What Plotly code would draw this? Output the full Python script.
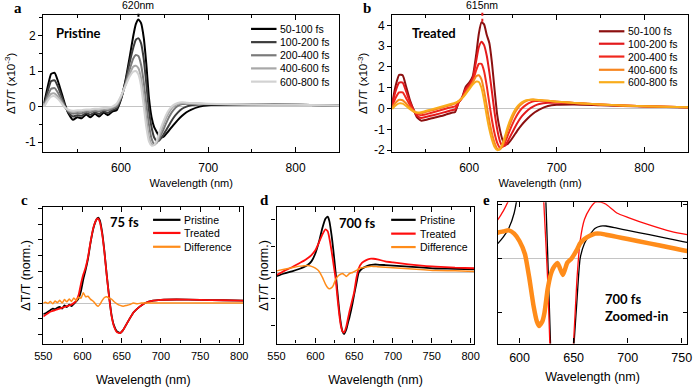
import plotly.graph_objects as go

# ---------------- data ----------------
TIMES = ["50-100 fs", "100-200 fs", "200-400 fs", "400-600 fs", "600-800 fs"]

# panel a : pristine, dT/T (x1e-3)
A_WL = [512, 516, 520, 524, 528, 532, 536, 540, 545, 550, 555, 560, 565, 570, 575, 580, 585,
        590, 595, 600, 605, 610, 614, 617, 620, 623, 626, 629, 632, 635, 638, 641, 644, 648,
        652, 656, 660, 665, 670, 675, 680, 690, 700, 720, 750, 800, 850]
A_50_100 = [0.10, 0.55, 0.92, 0.95, 0.70, 0.38, 0.05, -0.20, -0.37, -0.30, -0.33, -0.22, -0.30,
            -0.20, -0.28, -0.17, -0.24, -0.14, -0.10, 0.20, 0.72, 1.40, 1.98, 2.32, 2.45, 2.35,
            1.95, 1.20, 0.25, -0.30, -0.58, -0.72, -0.85, -0.86, -0.76, -0.64, -0.52, -0.38,
            -0.26, -0.16, -0.09, 0.0, 0.04, 0.06, 0.06, 0.05, 0.03]
A_100_200 = [0.06, 0.42, 0.72, 0.74, 0.55, 0.28, 0.02, -0.17, -0.28, -0.24, -0.26, -0.18, -0.23,
             -0.16, -0.21, -0.13, -0.18, -0.10, -0.05, 0.22, 0.68, 1.25, 1.65, 1.88, 1.92, 1.78,
             1.35, 0.65, -0.10, -0.58, -0.87, -0.97, -0.95, -0.82, -0.65, -0.48, -0.32, -0.17,
             -0.06, 0.0, 0.04, 0.06, 0.06, 0.06, 0.06, 0.05, 0.03]
A_200_400 = [0.03, 0.30, 0.50, 0.52, 0.38, 0.18, -0.02, -0.14, -0.20, -0.18, -0.19, -0.14, -0.16,
             -0.12, -0.14, -0.09, -0.11, -0.06, 0.0, 0.25, 0.62, 1.05, 1.35, 1.45, 1.42, 1.18,
             0.70, 0.08, -0.50, -0.90, -1.05, -1.02, -0.90, -0.68, -0.45, -0.25, -0.10, 0.02,
             0.07, 0.08, 0.08, 0.08, 0.07, 0.07, 0.06, 0.05, 0.03]
A_400_600 = [0.01, 0.22, 0.36, 0.37, 0.27, 0.12, -0.03, -0.11, -0.15, -0.13, -0.13, -0.10, -0.11,
             -0.08, -0.09, -0.06, -0.06, -0.02, 0.05, 0.28, 0.60, 0.92, 1.12, 1.15, 1.08, 0.80,
             0.28, -0.35, -0.85, -1.06, -1.08, -1.00, -0.82, -0.55, -0.30, -0.12, 0.0, 0.07,
             0.10, 0.10, 0.09, 0.08, 0.07, 0.07, 0.06, 0.05, 0.03]
A_600_800 = [0.0, 0.17, 0.28, 0.29, 0.21, 0.09, -0.03, -0.09, -0.12, -0.10, -0.10, -0.08, -0.08,
             -0.06, -0.06, -0.04, -0.03, 0.0, 0.08, 0.30, 0.58, 0.85, 0.98, 1.00, 0.90, 0.58,
             0.02, -0.58, -0.98, -1.10, -1.08, -0.95, -0.72, -0.45, -0.22, -0.06, 0.04, 0.10,
             0.12, 0.11, 0.10, 0.09, 0.08, 0.07, 0.06, 0.05, 0.03]
A_YTICKS = [-1, 0, 1, 2]

# panel b : treated, dT/T (x1e-3)
B_WL = [512, 516, 520, 524, 528, 532, 536, 540, 545, 550, 556, 562, 568, 574, 580, 584, 586,
        588, 592, 596, 600, 604, 608, 611, 614, 617, 620, 623, 626, 629, 632, 635, 638, 641,
        644, 648, 652, 656, 660, 665, 670, 675, 680, 690, 700, 720, 750, 800, 850]
B_50_100 = [0.25, 1.10, 1.62, 1.60, 1.05, 0.45, 0.0, -0.40, -0.58, -0.55, -0.48, -0.42, -0.36,
            -0.28, -0.20, -0.16, 0.05, 0.30, 0.55, 1.05, 1.25, 1.55, 2.60, 3.60, 4.15, 4.05,
            3.55, 3.15, 2.20, 0.90, -0.30, -1.00, -1.50, -1.73, -1.70, -1.50, -1.25, -1.00,
            -0.78, -0.55, -0.35, -0.18, -0.05, 0.12, 0.18, 0.20, 0.16, 0.10, 0.05]
B_100_200 = [0.18, 0.85, 1.25, 1.25, 0.82, 0.35, -0.02, -0.32, -0.45, -0.41, -0.35, -0.29, -0.22,
             -0.15, -0.08, -0.04, 0.10, 0.30, 0.52, 0.95, 1.15, 1.45, 2.30, 2.95, 3.22, 3.05,
             2.55, 1.75, 0.80, -0.20, -1.00, -1.55, -1.80, -1.78, -1.58, -1.25, -0.92, -0.62,
             -0.38, -0.15, 0.02, 0.14, 0.22, 0.28, 0.28, 0.25, 0.18, 0.11, 0.06]
B_200_400 = [0.10, 0.52, 0.78, 0.78, 0.50, 0.18, -0.08, -0.25, -0.32, -0.28, -0.21, -0.14, -0.07,
             0.0, 0.07, 0.11, 0.20, 0.32, 0.52, 0.85, 1.05, 1.30, 1.85, 2.15, 2.15, 1.80, 1.10,
             0.25, -0.55, -1.20, -1.65, -1.88, -1.85, -1.62, -1.30, -0.88, -0.52, -0.22, 0.0,
             0.18, 0.30, 0.36, 0.38, 0.36, 0.33, 0.27, 0.19, 0.11, 0.06]
B_400_600 = [0.05, 0.28, 0.42, 0.40, 0.24, 0.06, -0.10, -0.20, -0.22, -0.17, -0.10, -0.03, 0.04,
             0.11, 0.18, 0.25, 0.30, 0.36, 0.52, 0.75, 0.98, 1.25, 1.55, 1.60, 1.40, 0.85, 0.15,
             -0.60, -1.20, -1.65, -1.93, -1.97, -1.80, -1.45, -1.05, -0.60, -0.22, 0.05, 0.22,
             0.36, 0.42, 0.43, 0.41, 0.37, 0.33, 0.27, 0.19, 0.11, 0.06]
B_600_800 = [-0.02, 0.15, 0.25, 0.24, 0.12, -0.02, -0.13, -0.19, -0.18, -0.12, -0.05, 0.02, 0.09,
             0.16, 0.23, 0.28, 0.31, 0.36, 0.50, 0.70, 0.92, 1.15, 1.30, 1.28, 1.00, 0.40, -0.35,
             -1.00, -1.50, -1.85, -2.00, -1.95, -1.70, -1.30, -0.88, -0.42, -0.08, 0.15, 0.30,
             0.40, 0.43, 0.43, 0.41, 0.37, 0.33, 0.27, 0.19, 0.11, 0.06]
B_YTICKS = [-2, -1, 0, 1, 2, 3, 4]

COMPARE_NAMES = ["Pristine", "Treated", "Difference"]

# panel c : 75 fs, normalised
C_WL = [550, 553, 556, 559, 562, 565, 568, 571, 574, 577, 580, 583, 586, 589, 592, 595, 598,
        601, 604, 607, 610, 614, 618, 620, 622, 625, 628, 631, 634, 637, 640, 644, 648, 652,
        656, 660, 665, 670, 675, 680, 690, 700, 720, 750, 780, 805]
C_PRISTINE = [-0.14, -0.13, -0.11, -0.09, -0.07, -0.08, -0.06, -0.05, -0.07, -0.03, -0.05, -0.02,
              -0.04, -0.01, 0.02, 0.06, 0.15, 0.30, 0.42, 0.56, 0.75, 0.95, 1.06, 1.08, 1.05,
              0.90, 0.65, 0.35, 0.08, -0.15, -0.28, -0.36, -0.38, -0.34, -0.27, -0.20, -0.12,
              -0.07, -0.03, 0.0, 0.03, 0.04, 0.045, 0.04, 0.035, 0.03]
C_TREATED = [-0.17, -0.15, -0.13, -0.11, -0.10, -0.09, -0.08, -0.07, -0.06, -0.05, -0.04, -0.03,
             -0.02, 0.0, 0.03, 0.10, 0.24, 0.36, 0.45, 0.58, 0.76, 0.96, 1.06, 1.07, 1.03, 0.88,
             0.64, 0.34, 0.07, -0.16, -0.29, -0.37, -0.38, -0.34, -0.27, -0.20, -0.12, -0.07,
             -0.03, 0.0, 0.03, 0.04, 0.045, 0.04, 0.035, 0.03]
C_DIFF = [0.0, 0.01, -0.005, 0.02, -0.01, 0.025, 0.005, 0.035, 0.0, 0.045, 0.015, 0.05, 0.02, 0.065,
          0.03, 0.075, 0.06, 0.13, 0.08, 0.085, 0.05, 0.02, -0.03, -0.04, -0.02, 0.03, 0.07, 0.08,
          0.06, 0.05, 0.02, -0.01, -0.03, -0.04, -0.03, -0.02, 0.0, -0.01, 0.0, 0.0, 0.0, 0.0,
          0.0, 0.0, 0.0, 0.0]

# panels d & e : 700 fs, normalised
D_WL = [550, 560, 570, 580, 585, 590, 595, 600, 605, 609, 613, 616, 618, 621, 623, 626, 629,
        631, 633, 635, 637, 640, 642, 644, 648, 650, 653, 656, 660, 665, 670, 675, 680, 690,
        700, 720, 740, 755, 780, 805]
D_PRISTINE = [-0.07, -0.02, 0.02, 0.07, 0.10, 0.14, 0.21, 0.36, 0.60, 0.84, 1.02, 1.06, 0.98,
              0.70, 0.45, 0.02, -0.45, -0.75, -0.98, -1.12, -1.17, -1.08, -0.96, -0.85, -0.58,
              -0.42, -0.20, 0.0, 0.07, 0.11, 0.14, 0.15, 0.15, 0.14, 0.13, 0.11, 0.09, 0.075,
              0.07, 0.06]
D_TREATED = [-0.05, 0.03, 0.10, 0.18, 0.22, 0.27, 0.33, 0.42, 0.58, 0.72, 0.82, 0.78, 0.66, 0.40,
             0.20, -0.10, -0.55, -0.82, -1.02, -1.12, -1.14, -1.02, -0.88, -0.74, -0.50, -0.38,
             -0.10, 0.08, 0.18, 0.23, 0.26, 0.26, 0.25, 0.21, 0.19, 0.155, 0.125, 0.11, 0.09,
             0.08]
D_DIFF = [0.03, 0.06, 0.09, 0.12, 0.125, 0.13, 0.115, 0.08, 0.02, -0.09, -0.22, -0.29, -0.31,
          -0.29, -0.25, -0.14, -0.07, -0.045, -0.03, -0.02, -0.04, -0.075, -0.05, -0.02, 0.0,
          0.015, 0.04, 0.07, 0.09, 0.105, 0.115, 0.115, 0.11, 0.10, 0.09, 0.07, 0.05, 0.035,
          0.03, 0.02]

A_COLORS = ["#000000", "#3c3c3c", "#7a7a7a", "#a8a8a8", "#d2d2d2"]
B_COLORS = ["#8c1010", "#e31a1c", "#f0281e", "#f7861f", "#f9ac1b"]
CMP_COLORS = ["#000000", "#ff0d0d", "#ff8c1a"]

# ---------------- figure ----------------
W, H = 697, 387
SANS = "Liberation Sans, Arial, sans-serif"
BOLD = "Lato, Open Sans, sans-serif"


def px(x):
    return x / W


def py(y):
    return 1 - y / H


fig = go.Figure()

for name, col, vals in zip(TIMES, A_COLORS, [A_50_100, A_100_200, A_200_400, A_400_600, A_600_800]):
    fig.add_trace(go.Scatter(x=A_WL, y=vals, name=name, mode="lines", xaxis="x", yaxis="y",
                             line=dict(color=col, width=2, shape="spline", smoothing=0.5)))
for name, col, vals in zip(TIMES, B_COLORS, [B_50_100, B_100_200, B_200_400, B_400_600, B_600_800]):
    fig.add_trace(go.Scatter(x=B_WL, y=vals, name=name, mode="lines", xaxis="x2", yaxis="y2",
                             line=dict(color=col, width=2, shape="spline", smoothing=0.5)))
for name, col, vals, w in zip(COMPARE_NAMES, CMP_COLORS, [C_PRISTINE, C_TREATED, C_DIFF], [1.8, 1.8, 1.5]):
    fig.add_trace(go.Scatter(x=C_WL, y=vals, name=name, mode="lines", xaxis="x3", yaxis="y3",
                             line=dict(color=col, width=w, shape="spline", smoothing=0.4)))
for name, col, vals, w in zip(COMPARE_NAMES, CMP_COLORS, [D_PRISTINE, D_TREATED, D_DIFF], [1.8, 1.8, 1.5]):
    fig.add_trace(go.Scatter(x=D_WL, y=vals, name=name, mode="lines", xaxis="x4", yaxis="y4",
                             line=dict(color=col, width=w, shape="spline", smoothing=0.5)))
for name, col, vals, w in zip(COMPARE_NAMES, CMP_COLORS, [D_PRISTINE, D_TREATED, D_DIFF], [1.3, 1.3, 4.5]):
    fig.add_trace(go.Scatter(x=D_WL, y=vals, name=name, mode="lines", xaxis="x5", yaxis="y5",
                             line=dict(color=col, width=w, shape="spline", smoothing=0.5)))

DOM = {
    1: ([px(35), px(337)], [py(154), py(15)]),
    2: ([px(391), px(693)], [py(154), py(15)]),
    3: ([px(35), px(239)], [py(348), py(210)]),
    4: ([px(273), px(475)], [py(348), py(210)]),
    5: ([px(499), px(692)], [py(348), py(205)]),
}
XR = {1: [511, 850], 2: [512, 850], 3: [550, 805], 4: [550, 805], 5: [580, 755]}
YR = {1: [-1.278, 2.583], 2: [-2.09, 4.51], 3: [-0.5125, 1.2125], 4: [-1.35, 1.238], 5: [-0.391, 0.259]}
XD = {1: (100, 50), 2: (100, 50), 3: (50, 25), 4: (50, 25), 5: (50, None)}
YD = {1: (1, 0.5), 2: (1, None), 3: (0.2, None), 4: (0.5, None), 5: (0.25, None)}
XTF = {1: 12, 2: 12, 3: 11, 4: 11, 5: 12.5}
XTT = {1: 11, 2: 11, 3: 12.5, 4: 12.5, 5: 12.5}
XLS = {1: 4, 2: 4, 3: 2, 4: 2, 5: 2}
XTS = {1: 5, 2: 5, 3: 15, 4: 15, 5: 8}
YTV = {1: A_YTICKS, 2: B_YTICKS}
YTITLE = {1: "ΔT/T (x10<sup>-3</sup>)", 2: "ΔT/T (x10<sup>-3</sup>)", 3: "ΔT/T (norm.)", 4: "ΔT/T (norm.)"}
YTSIZE = {1: 11.5, 2: 11.5, 3: 12.5, 4: 12.5}
YTSTAND = {1: 7, 2: 3, 3: 4, 4: 0}

layout = dict(width=W, height=H, margin=dict(l=0, r=0, t=0, b=0), showlegend=False,
              paper_bgcolor="white", plot_bgcolor="white")

for i in range(1, 6):
    xs = "" if i == 1 else str(i)
    xd, xm = XD[i]
    xa = dict(domain=DOM[i][0], anchor=f"y{xs}", range=XR[i], tick0=0, dtick=xd,
              ticks="inside", ticklen=5, tickwidth=1.1, tickcolor="black",
              showline=True, linecolor="black", linewidth=1.2, mirror="ticks",
              showgrid=False, zeroline=False, ticklabelstandoff=XLS[i],
              tickfont=dict(family=SANS, size=XTF[i], color="black"),
              title=dict(text="Wavelength (nm)", font=dict(family=SANS, size=XTT[i], color="black"),
                         standoff=XTS[i]))
    if xm:
        xa["minor"] = dict(dtick=xm, tick0=0, ticks="inside", ticklen=3, tickwidth=1, tickcolor="black")
    layout["xaxis" + xs] = xa

    yd, ym = YD[i]
    ya = dict(domain=DOM[i][1], anchor=f"x{xs}", range=YR[i], tick0=0, dtick=yd,
              ticks="outside" if i < 5 else "inside", ticklen=4, tickwidth=1.1, tickcolor="black",
              showline=True, linecolor="black", linewidth=1.2,
              mirror=True if i < 5 else "ticks",
              showgrid=False, zeroline=True, zerolinecolor="#c4c4c4", zerolinewidth=1.3,
              showticklabels=i <= 2,
              tickfont=dict(family=SANS, size=12, color="black"))
    if i in YTITLE:
        ya["title"] = dict(text=YTITLE[i], standoff=YTSTAND[i],
                           font=dict(family=SANS, size=YTSIZE[i], color="black"))
    if ym:
        ya["minor"] = dict(dtick=ym, tick0=0, ticks="outside", ticklen=3, tickwidth=1, tickcolor="black")
    if i in YTV:
        ya["tickmode"] = "array"
        ya["tickvals"] = YTV[i]
        ya["ticktext"] = [str(v) for v in YTV[i]]
    layout["yaxis" + xs] = ya

    # right-hand axis carrying the inward-pointing mirror ticks
    if i < 5:
        oy = dict(overlaying=f"y{xs}", side="right", anchor=f"x{xs}", range=YR[i], tick0=0, dtick=yd,
                  ticks="inside", ticklen=4, tickwidth=1.1, tickcolor="black", showline=False,
                  showgrid=False, zeroline=False, showticklabels=False)
        if ym:
            oy["minor"] = dict(dtick=ym, tick0=0, ticks="inside", ticklen=3, tickwidth=1, tickcolor="black")
        layout[f"yaxis{i + 5}"] = oy

fig.update_layout(**layout)

ann = []
shapes = []


def text(x, y, s, size, family=SANS, xanchor="left", color="black"):
    ann.append(dict(x=px(x), y=py(y), xref="paper", yref="paper", text=s, showarrow=False,
                    xanchor=xanchor, yanchor="middle",
                    font=dict(family=family, size=size, color=color)))


def legend(names, colors, x0, x1, xt, ys, size, width=2.2):
    for n, c, y in zip(names, colors, ys):
        shapes.append(dict(type="line", xref="paper", yref="paper", x0=px(x0), x1=px(x1),
                           y0=py(y), y1=py(y), line=dict(color=c, width=width)))
        text(xt, y, n, size)


legend(TIMES, A_COLORS, 247, 273, 275, [29.3, 42.7, 56, 69.3, 82.7], 10.5)
legend(TIMES, B_COLORS, 602, 628, 630, [31.7, 44.3, 57.3, 70.7, 83.3], 10.5)
legend(COMPARE_NAMES, CMP_COLORS, 147, 175, 177, [222.7, 236, 250], 10.5)
legend(COMPARE_NAMES, CMP_COLORS, 390, 415, 417, [222.7, 236.7, 250.3], 10.5)

# panel letters
SERIF = "Liberation Serif, Times New Roman, serif"
for s, x, y in [("a", 9, 8), ("b", 365, 8), ("c", 16, 203), ("d", 261, 203), ("e", 487, 203)]:
    text(x, y, f"<b>{s}</b>", 15, family=SERIF, xanchor="center")

# in-plot labels
text(46, 33.3, "<b>Pristine</b>", 13, family=BOLD)
text(409, 33.3, "<b>Treated</b>", 13, family=BOLD)
text(101, 225, "<b>75 fs</b>", 13, family=BOLD)
text(335, 226, "<b>700 fs</b>", 13, family=BOLD)
text(606, 303, "<b>700 fs</b>", 13, family=BOLD)
text(606, 320, "<b>Zoomed-in</b>", 13, family=BOLD)

# peak markers
ann.append(dict(x=620, y=py(5), xref="x", yref="paper", text="620nm", showarrow=False,
                yanchor="middle", font=dict(family=SANS, size=10.5, color="black")))
ann.append(dict(x=615, y=py(5), xref="x2", yref="paper", text="615nm", showarrow=False,
                yanchor="middle", font=dict(family=SANS, size=10.5, color="black")))
shapes.append(dict(type="line", xref="x", yref="paper", x0=620, x1=620, y0=py(17), y1=py(11),
                   line=dict(color="black", width=2, dash="dot")))
shapes.append(dict(type="line", xref="x2", yref="paper", x0=615, x1=615, y0=py(22), y1=py(11),
                   line=dict(color="#e31a1c", width=2, dash="dot")))

fig.update_layout(annotations=ann, shapes=shapes)
fig.write_html("out.html")
